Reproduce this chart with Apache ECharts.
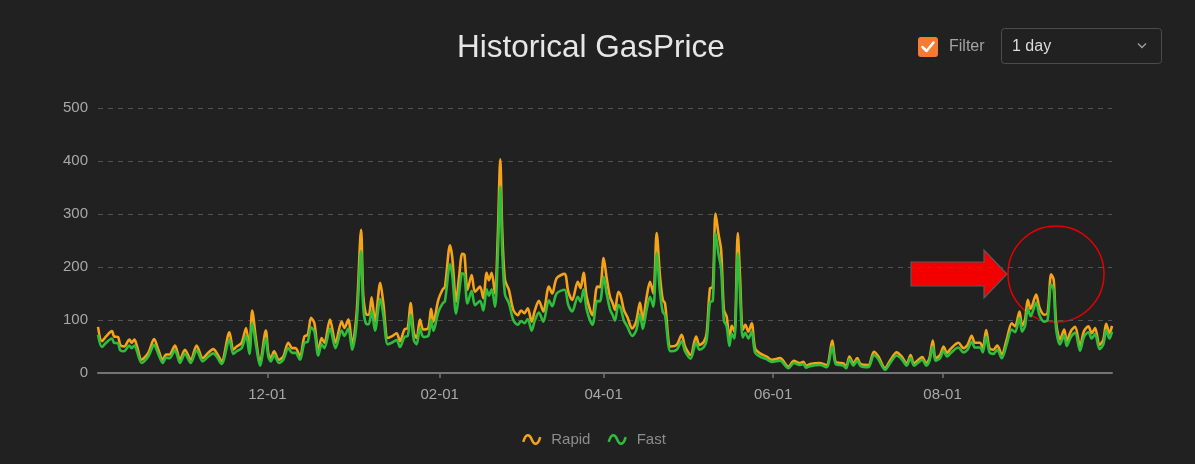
<!DOCTYPE html>
<html>
<head>
<meta charset="utf-8">
<script src="https://cdn.jsdelivr.net/npm/echarts@6/dist/echarts.min.js"></script>
<style>
html,body{margin:0;padding:0;background:#212121;}
#chart{width:1195px;height:464px;}
</style>
</head>
<body>
<div id="chart"></div>
<script>
// x = days since 2020-10-01
const days = [
0.0,1.4,2.9,5.0,5.8,7.2,8.0,9.4,11.3,12.1,13.1,13.9,15.7,18.1,20.2,21.7,23.3,24.5,25.7,27.7,
29.5,31.3,33.4,35.5,37.7,39.7,41.5,42.7,44.5,47.3,48.7,49.9,51.7,53.3,54.5,55.5,56.9,58.3,60.4,61.3,
62.2,63.4,65.1,66.7,68.5,69.9,71.1,72.7,74.3,75.5,76.7,77.9,79.3,80.5,81.5,83.5,85.5,87.7,88.7,90.1,
91.5,93.1,94.7,95.5,96.7,97.5,98.5,99.7,101.6,102.7,104.3,105.7,107.5,108.7,110.3,111.5,112.5,113.7,114.7,115.9,
117.1,118.9,119.9,120.7,121.3,122.5,124.0,124.9,126.7,127.5,128.9,130.0,131.1,131.9,133.0,134.5,135.7,137.5,138.7,139.9,
140.7,141.7,142.9,143.9,144.8,145.5,146.5,147.9,149.5,151.1,152.3,153.5,154.7,156.1,157.3,158.7,160.3,162.3,163.5,165.1,
167.9,169.3,170.7,172.7,173.7,174.8,175.9,178.0,179.7,180.7,182.0,183.1,184.3,185.3,186.1,187.3,188.1,189.3,190.5,192.3,
193.7,195.1,196.1,197.5,198.7,199.9,201.1,202.3,203.3,204.1,206.1,208.3,210.1,211.3,213.3,215.3,216.5,218.1,219.1,220.3,
221.3,222.3,223.3,224.3,225.3,226.3,227.3,228.1,229.1,230.3,231.1,232.1,233.0,234.1,235.3,236.5,238.3,240.7,242.5,245.5,
248.5,250.5,252.5,253.9,254.9,256.3,259.9,262.3,264.3,265.5,267.1,268.3,269.3,270.5,271.9,273.3,274.5,277.3,279.3,280.9,
283.3,285.3,287.5,289.3,291.1,292.5,293.7,295.3,296.7,298.1,299.3,300.5,301.5,303.1,304.4,305.6,307.0,309.7,311.5,313.0,
314.5,315.7,317.5,318.5,319.7,320.9,322.3,323.7,325.3,327.1,328.9,330.1,331.7,332.6,333.7,334.7,335.7,337.7,338.9,340.6,
341.8,343.1,344.0,344.9,346.3,347.8,348.7,350.2,351.7,353.5,354.9,356.5,357.7,358.9,360.5,361.9,362.9,364.1,365.0
];
const rapid = [
87,60,69,79,69,68,53,50,63,57,63,53,25,38,64,44,25,35,35,52,
25,44,25,52,28,38,45,38,22,77,44,50,57,85,44,118,63,19,80,38,
28,41,25,31,57,47,47,31,69,72,104,94,41,66,57,101,57,97,85,101,
53,113,270,145,110,110,143,97,170,132,66,69,75,60,82,85,132,75,66,101,
82,85,121,97,106,138,157,163,241,219,135,182,225,223,157,185,153,163,141,189,
175,189,150,257,403,270,175,157,119,109,118,113,122,97,119,136,116,163,150,179,
187,153,138,172,160,189,144,109,163,162,217,179,144,131,119,153,147,119,106,84,
97,133,100,144,172,150,264,182,138,131,50,53,72,50,34,69,53,59,75,160,
162,301,264,232,119,106,62,89,78,264,182,81,91,78,94,47,37,31,25,28,
12,23,19,21,13,17,19,15,61,21,19,18,12,31,18,28,17,15,40,31,
9,25,39,31,18,34,18,25,30,18,28,61,28,34,50,38,46,57,47,53,
70,57,57,47,81,47,44,52,35,63,94,88,116,89,101,138,121,148,123,110,
113,186,176,94,63,82,60,79,87,50,79,88,75,85,53,63,93,75,89
];
const fast = [
72,49,57,65,57,56,43,41,52,47,52,43,19,31,53,36,19,29,28,43,
19,36,19,43,22,31,37,31,17,63,36,41,47,70,36,94,52,14,66,31,
22,34,19,25,47,38,38,25,57,59,86,78,33,54,47,84,47,80,70,84,
44,95,230,122,92,92,118,80,140,110,54,57,62,49,68,70,110,62,54,84,
68,70,101,80,88,115,131,136,205,186,112,152,188,186,131,155,128,136,118,158,
146,158,125,220,352,232,148,132,100,91,98,94,102,80,100,114,97,137,126,150,
157,128,116,144,134,158,120,91,136,135,182,150,120,109,99,128,123,99,88,70,
80,111,83,120,144,125,226,152,115,109,41,44,60,41,27,57,44,49,62,134,
136,264,226,196,99,88,51,74,65,226,152,67,76,65,78,39,31,26,21,23,
9,19,15,17,10,13,15,11,50,17,15,14,9,26,14,23,13,11,34,26,
6,20,33,26,14,28,14,20,25,14,23,50,23,28,42,31,38,48,39,44,
59,48,48,39,69,39,36,44,28,54,82,77,104,78,89,122,107,133,109,97,
100,167,157,83,54,71,51,68,76,42,68,77,65,74,45,54,81,65,78
];
const tickDays = [61, 123, 182, 243, 304];
const tickLabels = ['12-01', '02-01', '04-01', '06-01', '08-01'];
const seriesNames = ['Rapid', 'Fast'];
const colors = ['#f5a318', '#2fbd3c'];

const FONT = '"Liberation Sans", Arial, Helvetica, sans-serif';
const chart = echarts.init(document.getElementById('chart'));
const wave = 'path://M1,9 C3,2 6,2 8,7 C10,12 13,12 15,5';

chart.setOption({
  backgroundColor: '#212121',
  animation: false,
  textStyle: { fontFamily: FONT },
  title: {
    text: 'Historical GasPrice',
    left: 457, top: 32, padding: 0,
    textStyle: { color: '#e6e6e6', fontSize: 31.5, fontWeight: 'normal', fontFamily: FONT }
  },
  legend: {
    left: 517, top: 427,
    itemWidth: 17, itemHeight: 11, itemGap: 17,
    textStyle: { color: '#8c8c8c', fontSize: 15, fontFamily: FONT, padding: [0, 0, 0, 6] },
    data: seriesNames.map((n, i) => ({
      name: n, icon: wave,
      itemStyle: { color: 'transparent', borderColor: colors[i], borderWidth: 2.5 }
    }))
  },
  grid: { left: 98, right: 83, top: 108, bottom: 91 },
  xAxis: {
    type: 'value', min: 0, max: 365,
    axisLine: { lineStyle: { color: '#747474', width: 2 } },
    axisTick: { show: true, customValues: tickDays, length: 5, lineStyle: { color: '#747474', width: 1.5 } },
    axisLabel: {
      customValues: tickDays, color: '#a8a8a8', fontSize: 15, margin: 14, fontFamily: FONT,
      formatter: v => { const k = tickDays.indexOf(Math.round(v)); return k >= 0 ? tickLabels[k] : ''; }
    },
    splitLine: { show: false }
  },
  yAxis: {
    type: 'value', min: 0, max: 500, interval: 100,
    axisLine: { show: false }, axisTick: { show: false },
    axisLabel: { color: '#a8a8a8', fontSize: 15, margin: 10, fontFamily: FONT },
    splitLine: { lineStyle: { color: '#525252', type: [5, 5], width: 1 } }
  },
  series: [
    { name: seriesNames[0], type: 'line', showSymbol: false, smooth: 0.3,
      color: colors[0], lineStyle: { width: 2.6, color: colors[0] },
      data: days.map((d, i) => [d, rapid[i]]) },
    { name: seriesNames[1], type: 'line', showSymbol: false, smooth: 0.3,
      color: colors[1], lineStyle: { width: 2.6, color: colors[1] },
      data: days.map((d, i) => [d, fast[i]]) }
  ],
  graphic: [
    // filter checkbox
    { type: 'rect', shape: { x: 918, y: 37, width: 20, height: 20, r: 3 }, style: { fill: '#f57a32' } },
    { type: 'polyline', shape: { points: [[922.5, 47], [926.5, 51], [933.5, 42.5]] },
      style: { stroke: '#ffffff', lineWidth: 2.5, fill: null, lineCap: 'round', lineJoin: 'round' } },
    { type: 'text', x: 949, y: 47, style: { text: 'Filter', fill: '#a3a3a3', fontSize: 16, fontFamily: FONT, verticalAlign: 'middle' } },
    // select box
    { type: 'rect', shape: { x: 1001.5, y: 28.5, width: 160, height: 35, r: 3 }, style: { fill: 'transparent', stroke: '#4c4c4c', lineWidth: 1 } },
    { type: 'text', x: 1012, y: 47, style: { text: '1 day', fill: '#dcdcdc', fontSize: 16, fontFamily: FONT, verticalAlign: 'middle' } },
    { type: 'polyline', shape: { points: [[1138, 43.5], [1142, 47.5], [1146, 43.5]] },
      style: { stroke: '#a0a0a0', lineWidth: 1.3, fill: null } },
    // annotation arrow
    { type: 'polygon', shape: { points: [[911, 262], [984, 262], [984, 250], [1007, 274], [984, 298], [984, 286], [911, 286]] },
      style: { fill: '#f20000', stroke: '#5a5a5a', lineWidth: 1.2 } },
    // annotation circle
    { type: 'circle', shape: { cx: 1056, cy: 274, r: 48 }, style: { fill: 'transparent', stroke: '#e60000', lineWidth: 1.5 } }
  ]
});
</script>
</body>
</html>
